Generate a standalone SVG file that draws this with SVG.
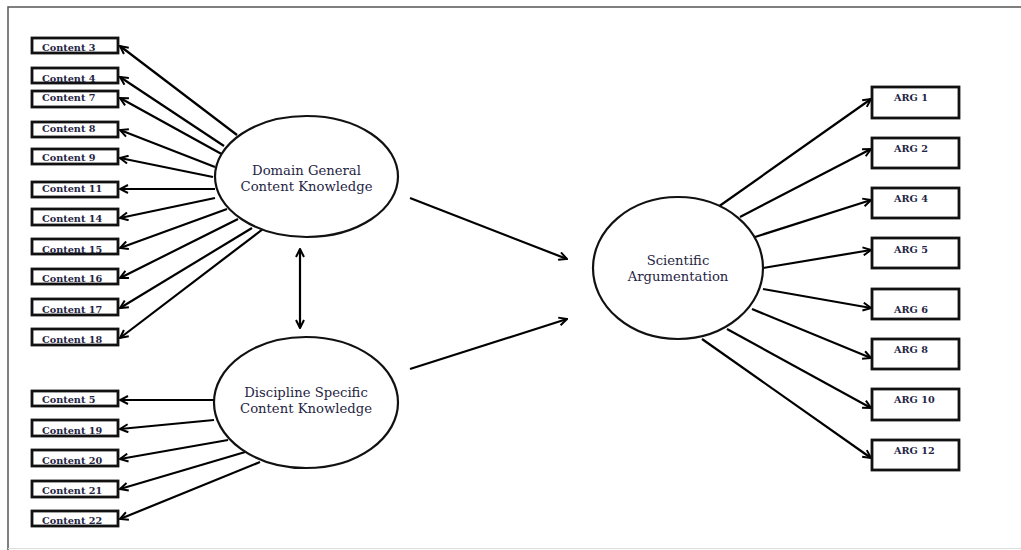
<svg xmlns="http://www.w3.org/2000/svg" width="1021" height="550" viewBox="0 0 1021 550">
<defs>
<marker id="arr" viewBox="0 0 10 10" refX="9" refY="5" markerWidth="10" markerHeight="10" markerUnits="userSpaceOnUse" orient="auto-start-reverse">
<path d="M1,1 L9,5 L1,9" fill="none" stroke="#000" stroke-width="2" stroke-linejoin="miter"/>
</marker>
</defs>
<style>
.box{fill:#fff;stroke:#111;stroke-width:2.8}
.ell{fill:#fff;stroke:#111;stroke-width:2.2}
.lbl{font-family:"DejaVu Serif","Liberation Serif",serif;font-weight:bold;font-size:9.7px;fill:#1f2544}
.big{font-family:"DejaVu Serif","Liberation Serif",serif;font-size:13.2px;fill:#1f2544;text-anchor:middle}
.con line{stroke:#000;stroke-width:2.2;marker-end:url(#arr)}
.frame{fill:none;stroke:#555;stroke-width:1.5}
</style>
<rect width="1021" height="550" fill="#fff"/>
<path class="frame" d="M1021,7 H8 V550"/>
<line x1="8" y1="548.5" x2="1021" y2="548.5" stroke="#ddd" stroke-width="1"/>

<g id="connectors" class="con">
<line x1="237" y1="135" x2="120" y2="46"/>
<line x1="224" y1="146" x2="120" y2="77"/>
<line x1="227" y1="157" x2="120" y2="98"/>
<line x1="215" y1="167" x2="120" y2="130"/>
<line x1="213" y1="177" x2="120" y2="158"/>
<line x1="215" y1="189" x2="120" y2="189"/>
<line x1="215" y1="198" x2="120" y2="218"/>
<line x1="227" y1="209" x2="120" y2="248"/>
<line x1="238" y1="219" x2="120" y2="278"/>
<line x1="252" y1="228" x2="120" y2="308"/>
<line x1="263" y1="229" x2="120" y2="338"/>
<line x1="214" y1="400" x2="120" y2="400"/>
<line x1="214" y1="420" x2="120" y2="429"/>
<line x1="228" y1="440" x2="120" y2="459"/>
<line x1="252" y1="450" x2="120" y2="489"/>
<line x1="260" y1="462" x2="120" y2="519"/>
<line x1="300" y1="249" x2="300" y2="328" style="marker-start:url(#arr)"/>
<line x1="410" y1="198" x2="567" y2="259"/>
<line x1="410" y1="369" x2="567" y2="319"/>
<line x1="718" y1="207" x2="871" y2="99"/>
<line x1="740" y1="217" x2="871" y2="149"/>
<line x1="755" y1="237" x2="871" y2="200"/>
<line x1="763" y1="268" x2="871" y2="250"/>
<line x1="763" y1="289" x2="871" y2="308"/>
<line x1="752" y1="309" x2="871" y2="358"/>
<line x1="727" y1="329" x2="871" y2="408"/>
<line x1="702" y1="339" x2="871" y2="458"/>
</g>

<g id="domain-general">
<ellipse class="ell" cx="306.5" cy="176.5" rx="91.5" ry="60.5"/>
<text class="big" x="306.5" y="175">Domain General</text>
<text class="big" x="306.5" y="191">Content Knowledge</text>
</g>
<g id="discipline-specific">
<ellipse class="ell" cx="306" cy="402.5" rx="92" ry="65.5"/>
<text class="big" x="306" y="397">Discipline Specific</text>
<text class="big" x="306" y="413">Content Knowledge</text>
</g>
<g id="scientific-argumentation">
<ellipse class="ell" cx="678" cy="268" rx="85" ry="71"/>
<text class="big" x="678" y="265">Scientific</text>
<text class="big" x="678" y="281">Argumentation</text>
</g>

<g id="content3"><rect class="box" x="32" y="38" width="86" height="15"/><text class="lbl" x="42" y="51">Content 3</text></g>
<g id="content4"><rect class="box" x="32" y="68" width="86" height="15"/><text class="lbl" x="42" y="81.5">Content 4</text></g>
<g id="content7"><rect class="box" x="32" y="91" width="86" height="16"/><text class="lbl" x="42" y="101">Content 7</text></g>
<g id="content8"><rect class="box" x="32" y="122" width="86" height="15"/><text class="lbl" x="42" y="131.5">Content 8</text></g>
<g id="content9"><rect class="box" x="32" y="149" width="86" height="15"/><text class="lbl" x="42" y="161">Content 9</text></g>
<g id="content11"><rect class="box" x="32" y="182" width="86" height="15"/><text class="lbl" x="42" y="192">Content 11</text></g>
<g id="content14"><rect class="box" x="32" y="209" width="86" height="16"/><text class="lbl" x="42" y="222">Content 14</text></g>
<g id="content15"><rect class="box" x="32" y="239" width="86" height="15"/><text class="lbl" x="42" y="252.5">Content 15</text></g>
<g id="content16"><rect class="box" x="32" y="269" width="86" height="15"/><text class="lbl" x="42" y="282">Content 16</text></g>
<g id="content17"><rect class="box" x="32" y="299" width="86" height="16"/><text class="lbl" x="42" y="312.5">Content 17</text></g>
<g id="content18"><rect class="box" x="32" y="329" width="86" height="16"/><text class="lbl" x="42" y="342.5">Content 18</text></g>
<g id="content5"><rect class="box" x="32" y="391" width="86" height="15"/><text class="lbl" x="42" y="403">Content 5</text></g>
<g id="content19"><rect class="box" x="32" y="420" width="86" height="16"/><text class="lbl" x="42" y="434">Content 19</text></g>
<g id="content20"><rect class="box" x="32" y="450" width="86" height="16"/><text class="lbl" x="42" y="463.5">Content 20</text></g>
<g id="content21"><rect class="box" x="32" y="481" width="86" height="16"/><text class="lbl" x="42" y="494">Content 21</text></g>
<g id="content22"><rect class="box" x="32" y="511" width="86" height="15"/><text class="lbl" x="42" y="524">Content 22</text></g>

<g id="arg1"><rect class="box" x="872" y="87" width="87" height="31"/><text class="lbl" x="894" y="101">ARG 1</text></g>
<g id="arg2"><rect class="box" x="872" y="138" width="87" height="30"/><text class="lbl" x="894" y="152">ARG 2</text></g>
<g id="arg4"><rect class="box" x="872" y="188" width="87" height="30"/><text class="lbl" x="894" y="202">ARG 4</text></g>
<g id="arg5"><rect class="box" x="872" y="238" width="87" height="30"/><text class="lbl" x="894" y="253">ARG 5</text></g>
<g id="arg6"><rect class="box" x="872" y="289" width="87" height="30"/><text class="lbl" x="894" y="313">ARG 6</text></g>
<g id="arg8"><rect class="box" x="872" y="339" width="87" height="30"/><text class="lbl" x="894" y="353">ARG 8</text></g>
<g id="arg10"><rect class="box" x="872" y="389" width="87" height="31"/><text class="lbl" x="894" y="403">ARG 10</text></g>
<g id="arg12"><rect class="box" x="872" y="440" width="87" height="30"/><text class="lbl" x="894" y="454">ARG 12</text></g>
</svg>
